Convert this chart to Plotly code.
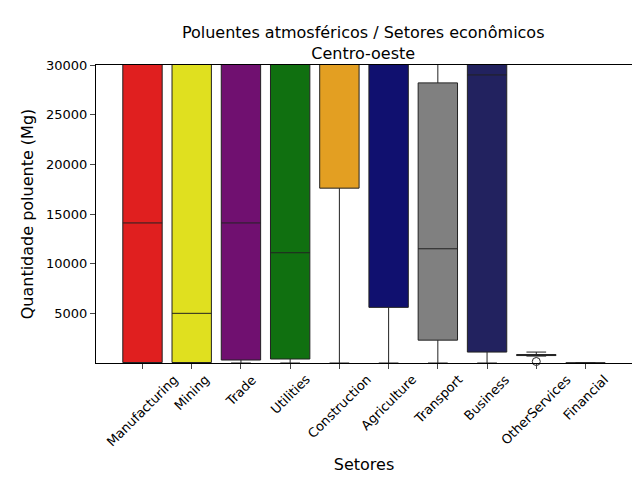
import plotly.graph_objects as go

setores = ['Manufacturing', 'Mining', 'Trade', 'Utilities', 'Construction',
           'Agriculture', 'Transport', 'Business', 'OtherServices', 'Financial']
q1 = [50, 50, 300, 400, 17600, 5600, 2300, 1100, 750, 0]
mediana = [14100, 5000, 14100, 11100, 40000, 40000, 11500, 29000, 800, 0]
q3 = [60000, 60000, 60000, 60000, 60000, 60000, 28200, 60000, 850, 0]
lim_inf = [0, 0, 0, 0, 0, 0, 0, 0, 700, 0]
lim_sup = [90000, 90000, 90000, 90000, 90000, 90000, 60000, 90000, 1100, 0]
outliers = {'OtherServices': [150]}
cores = ['#e01f1f', '#e0e01f', '#701070', '#107010', '#e39f22',
         '#10106f', '#808080', '#22225f', '#c0c0c0', '#c0c0c0']

fig = go.Figure()
for i, s in enumerate(setores):
    fig.add_trace(go.Box(
        x=[s], q1=[q1[i]], median=[mediana[i]], q3=[q3[i]],
        lowerfence=[lim_inf[i]], upperfence=[lim_sup[i]],
        fillcolor=cores[i], line=dict(color='#222222', width=1),
        width=0.8, showlegend=False, boxpoints=False,
    ))
    if s in outliers:
        fig.add_trace(go.Scatter(
            x=[s] * len(outliers[s]), y=outliers[s], mode='markers',
            marker=dict(symbol='circle-open', size=8, color='#222222'),
            showlegend=False, cliponaxis=False))

# rótulos rotacionados centrados no tick (como no matplotlib)
for s in setores:
    fig.add_annotation(x=s, y=0, yref='paper', yshift=-6, text=s, textangle=-45,
                       showarrow=False, xanchor='center', yanchor='top',
                       font=dict(size=13, color='black'))

fig.update_layout(
    width=640, height=480,
    title=dict(text='Poluentes atmosféricos / Setores econômicos<br>Centro-oeste',
               x=0.555, y=0.9375, yanchor='middle', xanchor='center',
               font=dict(size=16, color='black')),
    font=dict(family='DejaVu Sans', size=13, color='black'),
    paper_bgcolor='white', plot_bgcolor='white',
    margin=dict(l=88, r=16, t=57, b=125),
    xaxis=dict(title=dict(text='Setores', standoff=90), showticklabels=False,
               showline=True, linecolor='black', mirror=True, ticks='outside',
               showgrid=False),
    yaxis=dict(title=dict(text='Quantidade poluente (Mg)', standoff=8), range=[0, 30000],
               tickvals=[5000, 10000, 15000, 20000, 25000, 30000], tickformat='d',
               showline=True, linecolor='black', mirror=True, ticks='outside',
               showgrid=False, zeroline=False),
)

fig.write_html('out.html')
